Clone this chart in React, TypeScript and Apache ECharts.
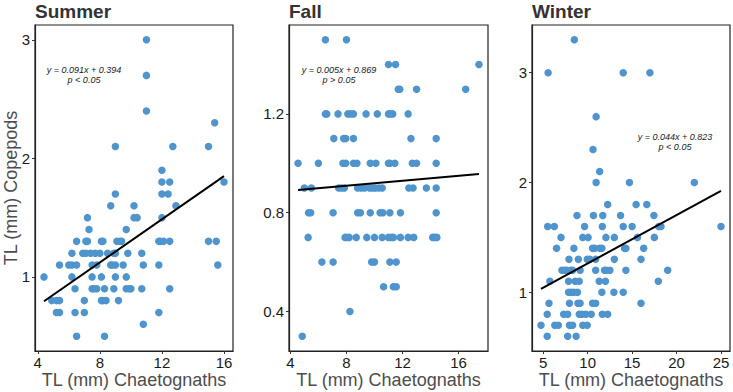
import React, { useEffect, useRef } from "react";
import * as echarts from "echarts";

// ---- Data (TL mm Chaetognaths -> TL mm Copepods) ----
const summerChaeto = [
  11.0, 11.0, 11.0, 15.4,
  9.0, 12.7, 15.0,
  12.0,
  12.0, 12.5, 16.0,
  9.0, 12.0, 12.4,
  8.7, 10.2, 12.9,
  7.2, 10.2, 10.4, 12.0,
  7.3, 9.7,
  6.5, 7.1, 7.2, 8.1, 8.2, 9.1, 9.3, 9.4, 11.8, 11.9, 12.1, 12.5, 15.0, 15.5,
  6.2, 6.9, 7.1, 7.4, 7.7, 8.0, 8.5, 8.9, 9.0, 9.8, 10.7,
  5.4, 6.0, 6.2, 6.5, 7.5, 7.8, 8.7, 8.8, 9.0, 9.5, 10.8, 11.8, 15.6,
  4.4, 6.2, 7.5, 8.1, 9.0, 9.7,
  6.4, 7.5, 7.6, 7.8, 8.3, 8.9, 9.7, 9.9, 10.0, 10.7, 12.5,
  4.9, 5.2, 5.4, 7.0, 8.1, 8.2, 8.4, 9.2,
  5.2, 5.4, 6.4, 7.0, 11.8,
  10.8,
  6.5, 8.3,
];
const summerCope = [
  3.0, 2.7, 2.4, 2.3,
  2.1, 2.1, 2.1,
  1.9,
  1.8, 1.8, 1.8,
  1.7, 1.7, 1.7,
  1.6, 1.6, 1.6,
  1.5, 1.5, 1.5, 1.5,
  1.4, 1.4,
  1.3, 1.3, 1.3, 1.3, 1.3, 1.3, 1.3, 1.3, 1.3, 1.3, 1.3, 1.3, 1.3, 1.3,
  1.2, 1.2, 1.2, 1.2, 1.2, 1.2, 1.2, 1.2, 1.2, 1.2, 1.2,
  1.1, 1.1, 1.1, 1.1, 1.1, 1.1, 1.1, 1.1, 1.1, 1.1, 1.1, 1.1, 1.1,
  1.0, 1.0, 1.0, 1.0, 1.0, 1.0,
  0.9, 0.9, 0.9, 0.9, 0.9, 0.9, 0.9, 0.9, 0.9, 0.9, 0.9,
  0.8, 0.8, 0.8, 0.8, 0.8, 0.8, 0.8, 0.8,
  0.7, 0.7, 0.7, 0.7, 0.7,
  0.6,
  0.5, 0.5,
];

const fallChaeto = [
  6.5, 8.0,
  11.0, 11.5, 17.45,
  11.7, 11.8, 13.0, 16.5,
  6.5, 6.6, 7.4, 8.1, 8.3, 8.5, 9.4, 10.2, 11.0, 11.1, 11.3, 12.4,
  7.1, 7.8, 7.95, 8.5, 12.6, 14.4,
  4.55, 6.0, 7.75, 7.95, 8.5, 8.75, 9.7, 10.1, 11.0, 11.1, 11.45, 12.7, 13.0, 14.4,
  5.0, 5.5, 7.45, 7.65, 7.85, 8.8, 9.05, 9.3, 9.65, 9.85, 10.05, 10.3, 10.55, 12.45, 12.75, 13.7, 14.4,
  5.3, 5.45, 7.05, 8.8, 9.0, 9.7, 10.4, 10.6, 11.1, 11.85, 14.4,
  5.27, 7.9, 8.05, 8.2, 8.7, 9.45, 10.0, 10.55, 11.0, 11.2, 11.35, 11.85, 12.4, 12.8, 14.15, 14.3, 14.45,
  6.25, 7.05, 9.8, 10.0, 11.1, 11.55,
  10.65, 11.35, 11.55,
  8.25,
  4.85,
];
const fallCope = [
  1.5, 1.5,
  1.4, 1.4, 1.4,
  1.3, 1.3, 1.3, 1.3,
  1.2, 1.2, 1.2, 1.2, 1.2, 1.2, 1.2, 1.2, 1.2, 1.2, 1.2, 1.2,
  1.1, 1.1, 1.1, 1.1, 1.1, 1.1,
  1.0, 1.0, 1.0, 1.0, 1.0, 1.0, 1.0, 1.0, 1.0, 1.0, 1.0, 1.0, 1.0, 1.0,
  0.9, 0.9, 0.9, 0.9, 0.9, 0.9, 0.9, 0.9, 0.9, 0.9, 0.9, 0.9, 0.9, 0.9, 0.9, 0.9, 0.9,
  0.8, 0.8, 0.8, 0.8, 0.8, 0.8, 0.8, 0.8, 0.8, 0.8, 0.8,
  0.7, 0.7, 0.7, 0.7, 0.7, 0.7, 0.7, 0.7, 0.7, 0.7, 0.7, 0.7, 0.7, 0.7, 0.7, 0.7, 0.7,
  0.6, 0.6, 0.6, 0.6, 0.6, 0.6,
  0.5, 0.5, 0.5,
  0.4,
  0.3,
];

const winterChaeto = [
  8.5,
  5.55, 14.0, 17.0,
  10.95, 10.6, 11.35,
  10.95, 14.7, 22.0,
  12.25, 15.45, 16.65,
  8.8, 10.65, 11.7, 13.7, 17.45,
  5.5, 6.25, 9.65, 11.65, 14.0, 15.0, 18.0, 18.25, 25.0,
  7.0, 9.45, 10.05, 12.05, 13.0, 15.6, 17.5,
  6.5, 8.45, 10.55, 10.8, 11.35, 11.6, 14.15, 14.3, 16.3,
  7.9, 8.95, 9.95, 10.25, 10.9, 13.0, 16.0,
  7.1, 7.4, 7.65, 8.1, 8.3, 9.15, 10.9, 11.9, 12.1, 12.5, 14.3, 19.0,
  5.75, 7.85, 8.6, 9.05, 11.3, 12.0, 17.95,
  7.85, 8.15, 8.45, 8.85, 11.6, 12.95, 14.0,
  5.65, 7.95, 8.9, 9.15, 10.55, 10.9, 16.0,
  5.45, 7.3, 7.75, 9.05, 9.35, 9.8, 10.4, 11.65, 12.25,
  4.75, 6.3, 6.7, 7.95, 8.3, 9.45, 9.95,
  5.45, 7.75, 8.7,
];
const winterCope = [
  3.3,
  3.0, 3.0, 3.0,
  2.6, 2.3, 2.1,
  2.0, 2.0, 2.0,
  1.8, 1.8, 1.8,
  1.7, 1.7, 1.7, 1.7, 1.7,
  1.6, 1.6, 1.6, 1.6, 1.6, 1.6, 1.6, 1.6, 1.6,
  1.5, 1.5, 1.5, 1.5, 1.5, 1.5, 1.5,
  1.4, 1.4, 1.4, 1.4, 1.4, 1.4, 1.4, 1.4, 1.4,
  1.3, 1.3, 1.3, 1.3, 1.3, 1.3, 1.3,
  1.2, 1.2, 1.2, 1.2, 1.2, 1.2, 1.2, 1.2, 1.2, 1.2, 1.2, 1.2,
  1.1, 1.1, 1.1, 1.1, 1.1, 1.1, 1.1,
  1.0, 1.0, 1.0, 1.0, 1.0, 1.0, 1.0,
  0.9, 0.9, 0.9, 0.9, 0.9, 0.9, 0.9,
  0.8, 0.8, 0.8, 0.8, 0.8, 0.8, 0.8, 0.8, 0.8,
  0.7, 0.7, 0.7, 0.7, 0.7, 0.7, 0.7,
  0.6, 0.6, 0.6,
];

const seasons = ["Summer", "Fall", "Winter"];
const fitSlopes = [0.091, 0.005, 0.044];
const fitIntercepts = [0.394, 0.869, 0.823];
const fitLabels = ["y = 0.091x + 0.394", "y = 0.005x + 0.869", "y = 0.044x + 0.823"];
const pLabels = ["p < 0.05", "p > 0.05", "p < 0.05"];
const xTicks = [[4, 8, 12, 16], [4, 8, 12, 16], [5, 10, 15, 20, 25]];
const yTicks = [[1, 2, 3], [0.4, 0.8, 1.2], [1, 2, 3]];
const xTitle = "TL (mm) Chaetognaths";
const yTitle = "TL (mm) Copepods";

const FONT = "'Liberation Sans', Arial, Helvetica, sans-serif";
const POINT = "#4F94CD";

const gridBoxes = [
  { left: 35, width: 198 },
  { left: 289, width: 199 },
  { left: 532, width: 198 },
];
const TOP = 25;
const HEIGHT = 326;
const annotPos = [
  [84, 70],
  [339, 70],
  [675, 137],
];

function expand(arr: number[]) {
  const lo = Math.min(...arr);
  const hi = Math.max(...arr);
  const pad = (hi - lo) * 0.05;
  return [lo - pad, hi + pad];
}

export default function App() {
  const ref = useRef<HTMLDivElement>(null);
  useEffect(() => {
    if (!ref.current) return;
    const chart = echarts.init(ref.current, undefined, { renderer: "svg" });
    const xs = [summerChaeto, fallChaeto, winterChaeto];
    const ys = [summerCope, fallCope, winterCope];

    const grids = gridBoxes.map((g) => ({
      left: g.left,
      width: g.width,
      top: TOP,
      height: HEIGHT,
      show: true,
      borderColor: "#222",
      borderWidth: 1.2,
      backgroundColor: "transparent",
      containLabel: false,
    }));

    const xAxes = xs.map((arr, i) => {
      const [mn, mx] = expand(arr);
      return {
        type: "value",
        gridIndex: i,
        min: mn,
        max: mx,
        splitLine: { show: false },
        axisLine: { show: true, lineStyle: { color: "#222", width: 1.2 } },
        axisTick: { show: true, length: 3, lineStyle: { color: "#333" }, customValues: xTicks[i] },
        axisLabel: { customValues: xTicks[i], fontSize: 15, color: "#1a1a1a", margin: 4, fontFamily: FONT },
      };
    });
    const yAxes = ys.map((arr, i) => {
      const [mn, mx] = expand(arr);
      return {
        type: "value",
        gridIndex: i,
        min: mn,
        max: mx,
        splitLine: { show: false },
        axisLine: { show: true, lineStyle: { color: "#222", width: 1.2 } },
        axisTick: { show: true, length: 3, lineStyle: { color: "#333" }, customValues: yTicks[i] },
        axisLabel: { customValues: yTicks[i], fontSize: 15, color: "#1a1a1a", margin: 5, fontFamily: FONT },
      };
    });

    const series: any[] = [];
    xs.forEach((arr, i) => {
      series.push({
        type: "scatter",
        xAxisIndex: i,
        yAxisIndex: i,
        symbolSize: 7.5,
        itemStyle: { color: POINT, opacity: 1 },
        data: arr.map((x, k) => [x, ys[i][k]]),
        z: 2,
      });
      const x0 = Math.min(...arr);
      const x1 = Math.max(...arr);
      series.push({
        type: "line",
        xAxisIndex: i,
        yAxisIndex: i,
        symbol: "none",
        lineStyle: { color: "#000", width: 2 },
        data: [
          [x0, fitSlopes[i] * x0 + fitIntercepts[i]],
          [x1, fitSlopes[i] * x1 + fitIntercepts[i]],
        ],
        z: 3,
      });
    });

    const graphics: any[] = [];
    seasons.forEach((s, i) => {
      graphics.push({
        type: "text",
        x: gridBoxes[i].left,
        y: 11,
        style: { text: s, fontSize: 19, fontWeight: "bold", fill: "#333", fontFamily: FONT, align: "left", verticalAlign: "middle" },
      });
      graphics.push({
        type: "text",
        x: gridBoxes[i].left + gridBoxes[i].width / 2,
        y: 380,
        style: { text: xTitle, fontSize: 18, fill: "#4d4d4d", fontFamily: FONT, align: "center", verticalAlign: "middle" },
      });
      graphics.push({
        type: "text",
        x: annotPos[i][0],
        y: annotPos[i][1],
        style: { text: fitLabels[i], fontSize: 9, fontStyle: "italic", fill: "#1a1a1a", fontFamily: FONT, align: "center", verticalAlign: "middle" },
      });
      graphics.push({
        type: "text",
        x: annotPos[i][0],
        y: annotPos[i][1] + 10,
        style: { text: pLabels[i], fontSize: 9, fontStyle: "italic", fill: "#1a1a1a", fontFamily: FONT, align: "center", verticalAlign: "middle" },
      });
    });
    graphics.push({
      type: "text",
      x: 11,
      y: TOP + HEIGHT / 2,
      rotation: Math.PI / 2,
      style: { text: yTitle, fontSize: 18, fill: "#4d4d4d", fontFamily: FONT, align: "center", verticalAlign: "middle" },
    });

    chart.setOption({
      animation: false,
      backgroundColor: "#fff",
      grid: grids,
      xAxis: xAxes,
      yAxis: yAxes,
      series,
      graphic: graphics,
    });
    return () => chart.dispose();
  }, []);
  return (
    <div
      ref={ref}
      style={{ position: "fixed", left: 0, top: 0, width: 733, height: 392 }}
    />
  );
}
